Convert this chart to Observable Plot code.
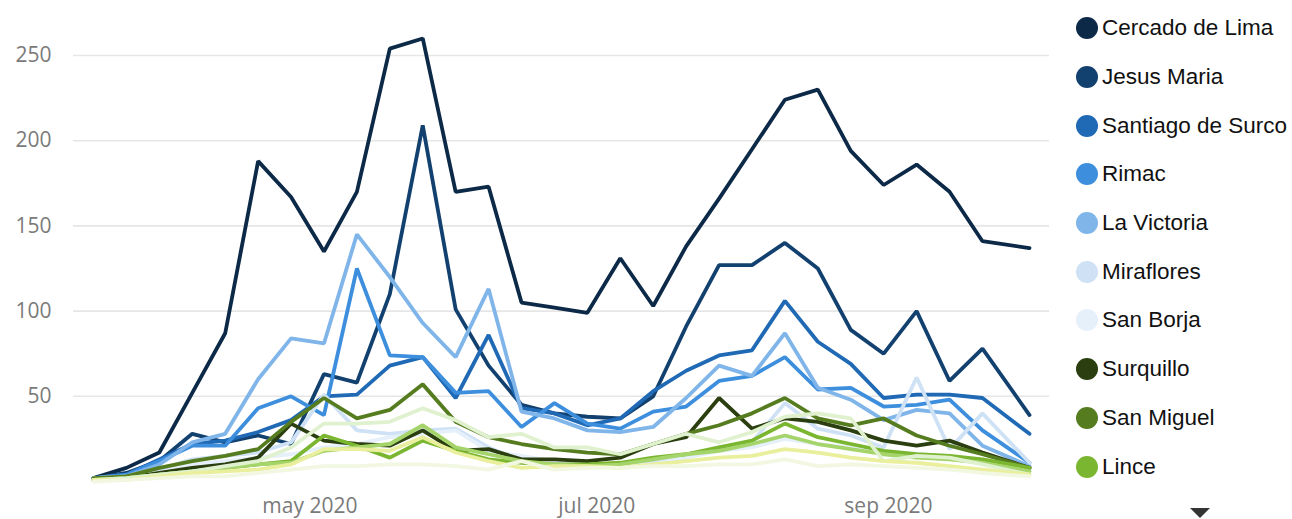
<!DOCTYPE html>
<html>
<head>
<meta charset="utf-8">
<script src="https://cdn.jsdelivr.net/npm/d3@7"></script>
<script src="https://cdn.jsdelivr.net/npm/@observablehq/plot@0.6"></script>
<style>
  html, body { margin: 0; padding: 0; background: #fff; overflow: hidden; }
  #wrap { position: relative; width: 1292px; height: 519px; }
  #chart { position: absolute; left: 0; top: 0; }
  #legend { position: absolute; left: 1076px; top: 4px; font-family: "Liberation Sans", Arial, sans-serif; font-size: 22.5px; color: #111; }
  .item { height: 48.7px; display: flex; align-items: center; white-space: nowrap; }
  .sw { width: 22px; height: 22px; border-radius: 50%; margin-right: 4px; flex: none; }
  #more { position: absolute; left: 1190px; top: 508px; width: 0; height: 0;
          border-left: 10px solid transparent; border-right: 10px solid transparent; border-top: 10px solid #333; }
</style>
</head>
<body>
<div id="wrap"><div id="chart"></div><div id="legend"></div><div id="more"></div></div>
<script>
// Weekly dates (x categories)
const dates = ["2020-03-16","2020-03-23","2020-03-30","2020-04-06","2020-04-13","2020-04-20","2020-04-27",
  "2020-05-04","2020-05-11","2020-05-18","2020-05-25","2020-06-01","2020-06-08","2020-06-15","2020-06-22",
  "2020-06-29","2020-07-06","2020-07-13","2020-07-20","2020-07-27","2020-08-03","2020-08-10","2020-08-17",
  "2020-08-24","2020-08-31","2020-09-07","2020-09-14","2020-09-21","2020-10-01"];

// Series values
const cercadoDeLima   = [2,8,17,52,87,188,167,135,170,254,260,170,173,105,102,99,131,103,138,166,195,224,230,194,174,186,170,141,137];
const jesusMaria      = [2,5,12,28,23,27,22,63,58,110,209,101,68,45,40,38,37,50,91,127,127,140,125,89,75,100,59,78,39];
const santiagoDeSurco = [2,4,13,22,24,29,36,50,51,68,73,49,86,43,40,33,37,53,65,74,77,106,82,69,49,51,51,49,28];
const rimac           = [2,4,12,21,21,43,50,39,125,74,73,52,53,32,46,34,31,41,44,59,62,73,54,55,44,45,48,30,11];
const laVictoria      = [2,3,10,23,28,60,84,81,145,120,93,73,113,41,37,30,29,32,49,68,62,87,55,48,36,42,40,21,9];
const miraflores      = [2,3,7,13,15,17,23,51,30,28,30,31,20,12,10,9,10,12,15,20,23,46,31,27,20,61,19,40,11];
const sanBorja        = [1,2,5,10,12,14,16,20,22,26,28,30,18,15,12,10,9,10,14,18,20,25,22,20,18,16,15,12,6];
const surquillo       = [1,2,5,8,10,14,34,24,22,21,30,18,19,13,13,12,14,22,26,49,31,37,35,30,24,21,24,17,8];
const sanMiguel       = [2,3,8,12,15,19,35,49,37,42,57,35,26,22,19,17,16,22,28,33,40,49,37,33,37,27,21,16,8];
const lince           = [1,2,4,6,8,10,12,27,21,14,24,18,13,11,10,10,11,14,16,20,24,34,26,22,18,16,15,13,8];
const brena           = [1,2,4,6,8,10,11,18,20,22,33,20,16,12,10,9,10,13,16,18,22,27,22,19,16,14,13,11,6];
const puebloLibre     = [1,2,4,6,9,12,20,34,34,35,43,36,26,28,20,20,16,22,28,23,29,38,40,37,12,15,14,10,4];
const magdalena       = [1,1,3,5,6,7,10,19,19,18,26,17,12,8,9,9,8,10,12,14,15,19,17,14,12,11,9,7,4];
const sanIsidro       = [0,1,2,3,3,5,7,9,9,10,10,9,7,12,7,8,8,9,9,10,10,13,9,10,9,8,7,5,3];

const names = ["Cercado de Lima","Jesus Maria","Santiago de Surco","Rimac","La Victoria","Miraflores","San Borja",
  "Surquillo","San Miguel","Lince","Breña","Pueblo Libre","Magdalena del Mar","San Isidro"];
const values = [cercadoDeLima, jesusMaria, santiagoDeSurco, rimac, laVictoria, miraflores, sanBorja,
  surquillo, sanMiguel, lince, brena, puebloLibre, magdalena, sanIsidro];
const colors = ["#0c2947","#13416f","#1f69b5","#3d8fde","#80b5ea","#cfe1f5","#e6f0fb",
  "#2a3e0f","#567c20","#7bb630","#a5d46a","#e0f1cf","#e9ef9c","#f2f7e1"];
const legendCount = 10;

const yTicks = [50, 100, 150, 200, 250];
const xTicks = ["2020-05-01","2020-07-01","2020-09-01"];

const rows = names.flatMap((n, i) => values[i].map((v, j) => ({name: n, date: new Date(dates[j]), value: v})));
const fmt = d3.utcFormat("%b %Y");

const chart = Plot.plot({
  width: 1065,
  height: 519,
  marginLeft: 73,
  marginRight: 16,
  marginTop: 55,
  marginBottom: 38,
  style: {fontFamily: "'Open Sans', sans-serif", fontSize: "21px", color: "#7a7a7a", background: "#fff"},
  x: {
    type: "utc",
    domain: [new Date(dates[0]), new Date(dates[dates.length - 1])],
    insetLeft: 20, insetRight: 20,
    ticks: xTicks.map(d => new Date(d)),
    tickFormat: d => fmt(d).toLowerCase(),
    tickSize: 0, tickPadding: 17, label: null
  },
  y: {
    domain: [0, 250],
    ticks: yTicks,
    tickSize: 0, tickPadding: 22, label: null
  },
  color: {domain: names, range: colors},
  marks: [
    Plot.ruleY(yTicks, {stroke: "#e6e6e6", strokeWidth: 1.6}),
    Plot.line(rows, {x: "date", y: "value", z: "name", stroke: "name", strokeWidth: 3.8, strokeLinejoin: "miter"})
  ]
});
document.getElementById("chart").appendChild(chart);

const legend = document.getElementById("legend");
names.slice(0, legendCount).forEach((n, i) => {
  const it = document.createElement("div");
  it.className = "item";
  const sw = document.createElement("span");
  sw.className = "sw";
  sw.style.background = colors[i];
  const tx = document.createElement("span");
  tx.textContent = n;
  it.appendChild(sw); it.appendChild(tx);
  legend.appendChild(it);
});
</script>
</body>
</html>
